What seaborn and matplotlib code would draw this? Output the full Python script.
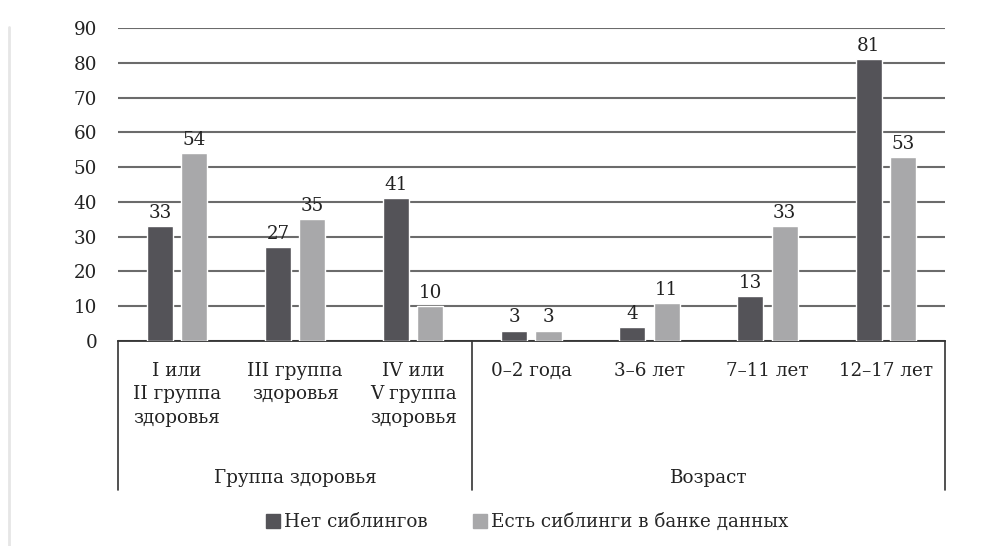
import matplotlib
matplotlib.use("Agg")
import matplotlib.pyplot as plt
import matplotlib.transforms as mtransforms
from matplotlib.lines import Line2D
import seaborn as sns
import pandas as pd

categories = ["I или\nII группа\nздоровья", "III группа\nздоровья", "IV или\nV группа\nздоровья",
              "0–2 года", "3–6 лет", "7–11 лет", "12–17 лет"]
series_names = ["Нет сиблингов", "Есть сиблинги в банке данных"]
no_siblings = [33, 27, 41, 3, 4, 13, 81]
with_siblings = [54, 35, 10, 3, 11, 33, 53]
groups = ["Группа здоровья", "Возраст"]
group_sizes = [3, 4]
yticks = [0, 10, 20, 30, 40, 50, 60, 70, 80, 90]

colors = ["#545358", "#a8a8aa"]
FS = 13.2

df = pd.DataFrame({
    "cat": categories * 2,
    "series": [series_names[0]] * len(categories) + [series_names[1]] * len(categories),
    "value": no_siblings + with_siblings,
})

sns.set_theme(style="white")
plt.rcParams["font.family"] = ["DejaVu Serif"]
plt.rcParams["font.size"] = FS

fig = plt.figure(figsize=(10.04, 5.46), dpi=100)
ax = fig.add_axes([0.1175, 0.3755, 0.8235, 0.5732])

sns.barplot(data=df, x="cat", y="value", hue="series", order=categories,
            hue_order=series_names, palette=colors, width=0.58, gap=0.24,
            saturation=1, ax=ax, legend=False, zorder=3)

ax.set_ylim(0, 90)
ax.set_xlim(-0.5, len(categories) - 0.5)
ax.set_yticks(yticks)
ax.yaxis.grid(True, color="#6b6b6b", linewidth=1.5, zorder=0)
ax.set_axisbelow(True)
for s in ["top", "right", "left"]:
    ax.spines[s].set_visible(False)
ax.spines["bottom"].set_color("#333333")
ax.spines["bottom"].set_linewidth(1.3)
ax.tick_params(axis="y", length=0, pad=15, labelsize=FS, labelcolor="#222222")
ax.tick_params(axis="x", length=0, pad=15, labelsize=FS, labelcolor="#222222")
ax.set_xlabel("")
ax.set_ylabel("")
for lbl in ax.get_xticklabels():
    lbl.set_linespacing(1.4)
    lbl.set_verticalalignment("top")

for cont in ax.containers:
    ax.bar_label(cont, fmt="%d", padding=3, fontsize=FS, color="#222222")

# group separators
trans = mtransforms.blended_transform_factory(ax.transData, ax.transAxes)
bounds = [-0.5]
for n in group_sizes:
    bounds.append(bounds[-1] + n)
for b in bounds:
    ax.add_line(Line2D([b, b], [0, -0.476], transform=trans, color="#333333",
                       linewidth=1.2, clip_on=False))
for i, g in enumerate(groups):
    ax.text((bounds[i] + bounds[i + 1]) / 2, -0.438, g, transform=trans,
            ha="center", va="center", fontsize=FS, color="#222222")

handles = [Line2D([], [], marker="s", linestyle="", markersize=10,
                  markerfacecolor=c, markeredgecolor=c) for c in colors]
fig.legend(handles, series_names, loc="center", bbox_to_anchor=(0.524, 0.044),
           ncol=2, frameon=False, fontsize=FS, handletextpad=0.1,
           columnspacing=2.4, handlelength=1.0)

# faint page edge
fig.add_artist(Line2D([0.009, 0.009], [0.0, 0.95], transform=fig.transFigure,
                      color="#e6e6e6", linewidth=2))

fig.savefig("out.png", dpi=100, facecolor="white")
